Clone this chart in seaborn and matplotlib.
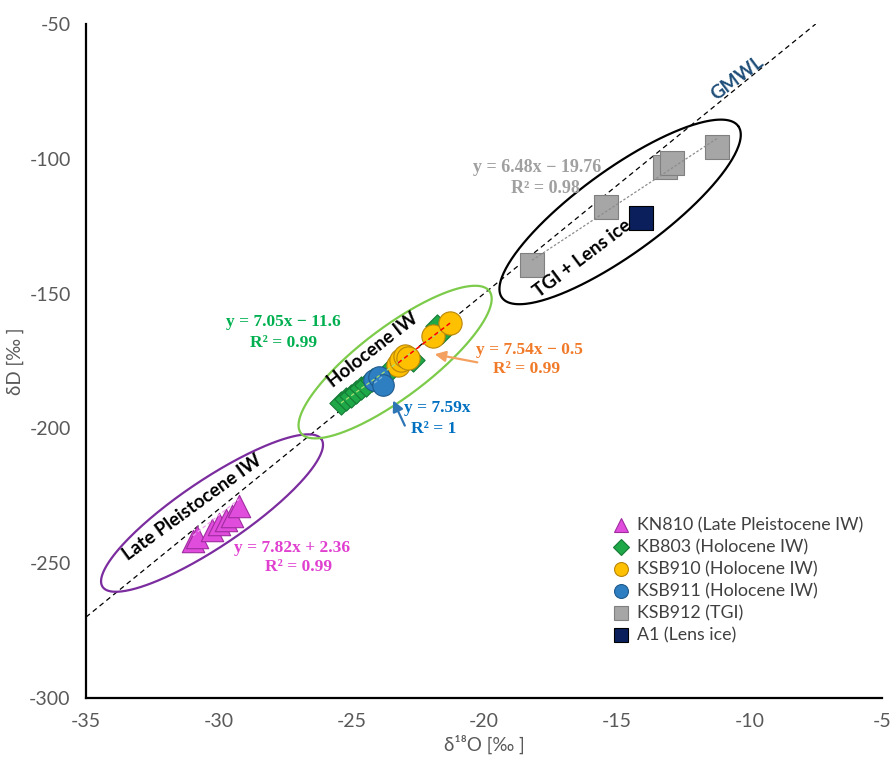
import numpy as np
import pandas as pd
import matplotlib
matplotlib.use("Agg")
import matplotlib.pyplot as plt
import seaborn as sns

# ---------------- data ----------------
kn810_x = [-30.97, -30.82, -30.25, -29.99, -29.72, -29.50, -29.23]
kn810_y = [-241.8, -240.3, -237.7, -235.5, -234.0, -232.5, -228.8]

kb803_x = [-25.39, -25.20, -25.01, -24.82, -24.63, -24.45, -24.22, -23.62, -22.67, -21.77, -21.58]
kb803_y = [-190.6, -189.1, -188.0, -186.5, -185.0, -183.9, -182.0, -179.1, -174.6, -162.0, -164.2]

ksb910_x = [-23.24, -23.13, -22.98, -22.86, -21.92, -21.28]
ksb910_y = [-176.5, -174.6, -173.1, -173.9, -165.7, -160.9]

ksb911_x = [-24.14, -23.96, -23.81]
ksb911_y = [-182.0, -180.9, -183.9]

ksb912_x = [-18.19, -15.40, -13.18, -12.91, -11.22]
ksb912_y = [-139.4, -117.9, -103.0, -101.6, -95.6]

a1_x = [-14.08]
a1_y = [-122.0]

series_names = ["KN810 (Late Pleistocene IW)", "KB803 (Holocene IW)", "KSB910 (Holocene IW)",
                "KSB911 (Holocene IW)", "KSB912 (TGI)", "A1 (Lens ice)"]

# trend line coefficients (slope, intercept) as printed on chart
fit_kn810 = (7.82, 2.36)
fit_kb803 = (7.05, -11.6)
fit_ksb910 = (7.54, -0.5)
fit_ksb911 = (7.59, 0.0)
fit_ksb912 = (6.48, -19.76)
gmwl = (8.0, 10.0)

x_ticks = [-35, -30, -25, -20, -15, -10, -5]
y_ticks = [-300, -250, -200, -150, -100, -50]

# ---------------- figure ----------------
sns.set_theme(style="white")
plt.rcParams['font.family'] = ['Lato', 'DejaVu Sans']

W, H = 890, 763
fig = plt.figure(figsize=(W / 100, H / 100), dpi=100)
ax_l, ax_b, ax_w, ax_h = 86, 65, 796, 674
ax = fig.add_axes([ax_l / W, ax_b / H, ax_w / W, ax_h / H])
ax.set_xlim(-35, -5)
ax.set_ylim(-300, -50)
sx = ax_w / 30.0
sy = ax_h / 250.0

# GMWL
gx = np.array([-35, -7.5])
ax.plot(gx, gmwl[0] * gx + gmwl[1], ls=(0, (4, 3)), color='black', lw=0.9, zorder=1)

# Ellipses (annotations) defined in pixel-like units around a data center
def draw_ellipse(cx, cy, a, b, ang, color, lw=1.6):
    t = np.linspace(0, 2 * np.pi, 300)
    th = np.deg2rad(ang)
    px = a * np.cos(t) * np.cos(th) - b * np.sin(t) * np.sin(th)
    py = a * np.cos(t) * np.sin(th) + b * np.sin(t) * np.cos(th)
    ax.plot(cx + px / sx, cy + py / sy, color=color, lw=lw, zorder=2)

draw_ellipse(-30.25, -231.4, 132, 33, 34, '#7B2C9E')
draw_ellipse(-23.35, -175.4, 118, 35, 37, '#7CCB4A')
draw_ellipse(-14.87, -119.7, 146, 42, 36, 'black')

groups = [
    (kn810_x, kn810_y, '^', '#E04CDC', '#A02CA0', 260),
    (kb803_x, kb803_y, 'D', '#1FA848', '#157A35', 140),
    (ksb910_x, ksb910_y, 'o', '#FFC000', '#B8860B', 280),
    (ksb911_x, ksb911_y, 'o', '#2E7FC2', '#1E5A8C', 240),
    (ksb912_x, ksb912_y, 's', '#A6A6A6', '#808080', 300),
    (a1_x, a1_y, 's', '#0A1F5C', '#000000', 300),
]
handles = []
for (xs, ys, mk, fc, ec, s), name in zip(groups, series_names):
    df = pd.DataFrame({'x': xs, 'y': ys})
    sns.scatterplot(data=df, x='x', y='y', marker=mk, color=fc, edgecolor=ec,
                    linewidth=0.8, s=s, ax=ax, zorder=4, legend=False)
    handles.append(plt.Line2D([], [], ls='', marker=mk, markerfacecolor=fc,
                              markeredgecolor=ec, markersize=10 if mk != 'D' else 8,
                              markeredgewidth=0.8))

# trend lines
def trend(xs, fit, color, ls, lw=1.0):
    xr = np.array([min(xs), max(xs)])
    ax.plot(xr, fit[0] * xr + fit[1], color=color, ls=ls, lw=lw, zorder=5)

trend(kn810_x, fit_kn810, '#F0A0F0', (0, (3, 2)), 0.9)
trend(kb803_x, fit_kb803, '#A8E070', (0, (3, 2)), 0.9)
trend(ksb910_x, fit_ksb910, '#FF0000', (0, (3, 2)), 1.1)
trend(ksb911_x, fit_ksb911, '#7FB6E0', (0, (3, 2)), 0.9)
trend(ksb912_x, fit_ksb912, '#8C8C8C', (0, (2, 1.5)), 0.9)

# group labels
lab_kw = dict(fontsize=13.5, fontweight='bold', color='black', ha='center', va='center',
              rotation_mode='anchor', zorder=6)
ax.text(-31.0, -229.5, 'Late Pleistocene IW', rotation=36, **lab_kw)
ax.text(-24.2, -171.0, 'Holocene IW', rotation=38, **lab_kw)
ax.text(-16.3, -136.8, 'TGI + Lens ice', rotation=37, **lab_kw)
ax.text(-10.46, -70.0, 'GMWL', rotation=37, fontsize=13.5, fontweight='bold',
        color='#1F4E79', ha='center', va='center', rotation_mode='anchor')

# equations
serif = ['Liberation Serif', 'DejaVu Serif']
def eq(x, y, s, c, fs=12.5):
    ax.text(x, y, s, family=serif, fontsize=fs, fontweight='bold', color=c,
            ha='center', va='center', zorder=6)

eq(-18.0, -103.4, 'y = 6.48x \u2212 19.76', '#A0A0A0', 13)
eq(-17.7, -111.2, 'R\u00b2 = 0.98', '#A0A0A0', 13)
eq(-27.57, -160.5, 'y = 7.05x \u2212 11.6', '#00B050')
eq(-27.57, -168.3, 'R\u00b2 = 0.99', '#00B050')
eq(-18.30, -170.9, 'y = 7.54x \u2212 0.5', '#F07A28')
eq(-18.38, -178.0, 'R\u00b2 = 0.99', '#F07A28')
eq(-21.77, -192.4, 'y = 7.59x', '#0070C0')
eq(-21.88, -200.2, 'R\u00b2 = 1', '#0070C0')
eq(-27.25, -244.4, 'y = 7.82x + 2.36', '#E040D0')
eq(-27.0, -251.4, 'R\u00b2 = 0.99', '#E040D0')

# arrows
ax.annotate('', xy=(-21.96, -172.3), xytext=(-20.15, -175.7),
            arrowprops=dict(arrowstyle='-|>', color='#F4A060', lw=1.6, mutation_scale=16))
ax.annotate('', xy=(-23.47, -188.7), xytext=(-22.94, -199.9),
            arrowprops=dict(arrowstyle='-|>', color='#2E75B6', lw=1.6, mutation_scale=16))

# axes styling
ax.set_xticks(x_ticks)
ax.set_yticks(y_ticks)
ax.set_xticklabels([str(v) for v in x_ticks])
ax.set_yticklabels([str(v) for v in y_ticks])
for sp in ['top', 'right']:
    ax.spines[sp].set_visible(False)
for sp in ['left', 'bottom']:
    ax.spines[sp].set_color('black')
    ax.spines[sp].set_linewidth(1.6)
ax.tick_params(axis='both', direction='out', length=6, width=1.5, color='black',
               labelsize=14, labelcolor='#595959')
ax.tick_params(axis='y', pad=5)
ax.tick_params(axis='x', pad=5)
ax.set_xlabel('\u03b4\u00b9\u2078O [\u2030 ]', fontsize=13.5, color='#595959', labelpad=3)
ax.set_ylabel('\u03b4D [\u2030 ]', fontsize=13.5, color='#595959', labelpad=4)
ax.grid(False)

leg = ax.legend(handles, series_names, loc='upper left', bbox_to_anchor=(0.652, 0.278),
                frameon=False, fontsize=12.8, labelspacing=0.33, handletextpad=0.4,
                handlelength=1.0, borderaxespad=0)
for t in leg.get_texts():
    t.set_color('#404040')

fig.savefig('out.png', dpi=100)
